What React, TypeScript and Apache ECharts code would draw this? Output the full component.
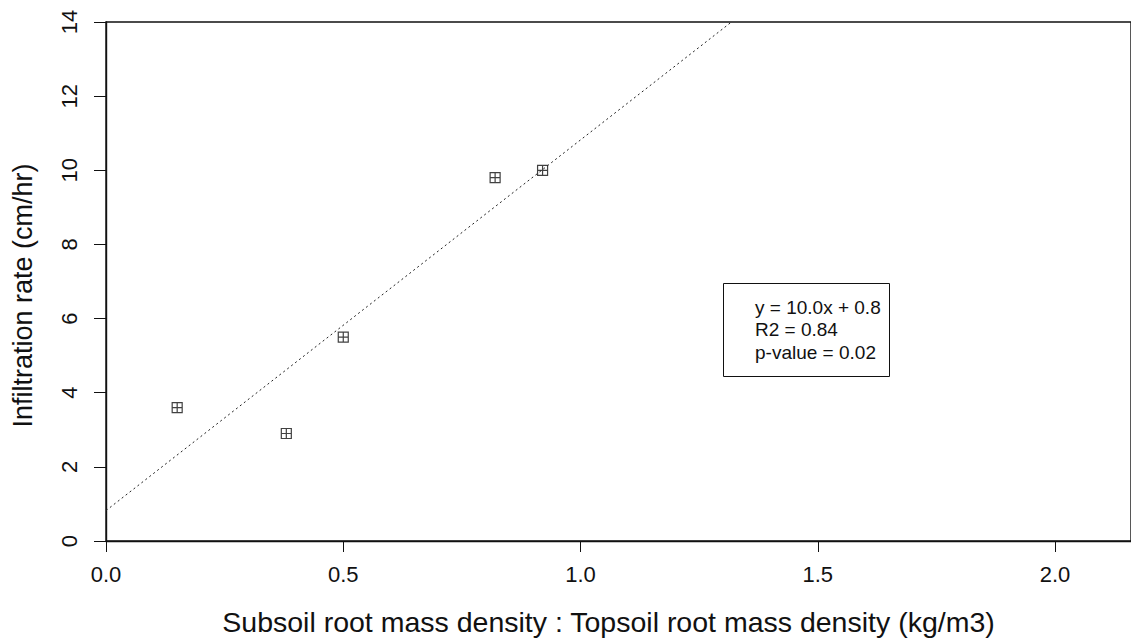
import React, { useEffect, useRef } from "react";
import * as echarts from "echarts";

// Root mass density ratio (subsoil : topsoil) vs. infiltration rate
const ratioValues = [0.15, 0.38, 0.5, 0.82, 0.92];
const infiltrationValues = [3.6, 2.9, 5.5, 9.8, 10.0];
const statsLines = ["y = 10.0x + 0.8", "R2 = 0.84", "p-value = 0.02"];
const xTickStep = 0.5;
const yTickStep = 2;

const FONT = "'Liberation Sans', Arial, Helvetica, sans-serif";

// ordinary least-squares fit of the points
function leastSquares(xs: number[], ys: number[]) {
  const n = xs.length;
  const mx = xs.reduce((a, b) => a + b, 0) / n;
  const my = ys.reduce((a, b) => a + b, 0) / n;
  let sxy = 0;
  let sxx = 0;
  for (let i = 0; i < n; i++) {
    sxy += (xs[i] - mx) * (ys[i] - my);
    sxx += (xs[i] - mx) * (xs[i] - mx);
  }
  const slope = sxy / sxx;
  return { slope, intercept: my - slope * mx };
}

export default function App() {
  const ref = useRef<HTMLDivElement>(null);

  useEffect(() => {
    document.body.style.margin = "0";
    if (!ref.current) return;
    const chart = echarts.init(ref.current, null, { renderer: "svg" });

    const yMax = 14;
    const xMax = 2.16;
    const fit = leastSquares(ratioValues, infiltrationValues);
    const fitLine = [
      [0, fit.intercept],
      [(yMax - fit.intercept) / fit.slope, yMax],
    ];

    const markerPath = "path://M0 0H10V10H0Z M5 0V10 M0 5H10";

    chart.setOption({
      animation: false,
      backgroundColor: "#fff",
      grid: {
        left: 106,
        right: -2,
        top: 22,
        bottom: 97,
        show: true,
        borderColor: "#111",
        borderWidth: 1.4,
      },
      xAxis: {
        type: "value",
        min: 0,
        max: xMax,
        interval: xTickStep,
        name: "Subsoil root mass density : Topsoil root mass density (kg/m3)",
        nameLocation: "middle",
        nameGap: 66,
        nameTextStyle: {
          fontFamily: FONT,
          fontSize: 28.5,
          color: "#111",
          padding: [0, 20, 0, 0],
        },
        axisLine: { show: true, onZero: false, lineStyle: { color: "#111", width: 1.4 } },
        axisTick: { show: true, length: 11, lineStyle: { color: "#111", width: 1 } },
        axisLabel: {
          margin: 22,
          fontFamily: FONT,
          fontSize: 22,
          color: "#111",
          showMaxLabel: false,
          formatter: (v: number) => v.toFixed(1),
        },
        splitLine: { show: false },
      },
      yAxis: {
        type: "value",
        min: 0,
        max: yMax,
        interval: yTickStep,
        name: "Infiltration rate (cm/hr)",
        nameLocation: "middle",
        nameGap: 70,
        nameTextStyle: {
          fontFamily: FONT,
          fontSize: 27,
          color: "#111",
          padding: [0, 28, 0, 0],
        },
        axisLine: { show: true, onZero: false, lineStyle: { color: "#111", width: 1.4 } },
        axisTick: { show: true, length: 12, lineStyle: { color: "#111", width: 1 } },
        axisLabel: {
          margin: 26,
          rotate: 90,
          fontFamily: FONT,
          fontSize: 22,
          color: "#111",
        },
        splitLine: { show: false },
      },
      series: [
        {
          type: "line",
          data: fitLine,
          symbol: "none",
          silent: true,
          lineStyle: { color: "#222", width: 1, type: [2, 3] },
          z: 1,
        },
        {
          type: "scatter",
          data: ratioValues.map((x, i) => [x, infiltrationValues[i]]),
          symbol: markerPath,
          symbolSize: 10,
          itemStyle: { color: "rgba(0,0,0,0)", borderColor: "#111", borderWidth: 1.2 },
          z: 2,
        },
      ],
      graphic: [
        {
          type: "rect",
          left: 723,
          top: 283,
          shape: { width: 166, height: 93 },
          style: { fill: "#fff", stroke: "#111", lineWidth: 1 },
          z: 10,
        },
        ...statsLines.map((t, i) => ({
          type: "text",
          left: 755,
          top: 297.5 + i * 22.7,
          style: { text: t, fontFamily: FONT, fontSize: 19, fill: "#111" },
          z: 11,
        })),
      ],
    });

    return () => chart.dispose();
  }, []);

  return <div ref={ref} style={{ width: 1131, height: 641 }} />;
}
